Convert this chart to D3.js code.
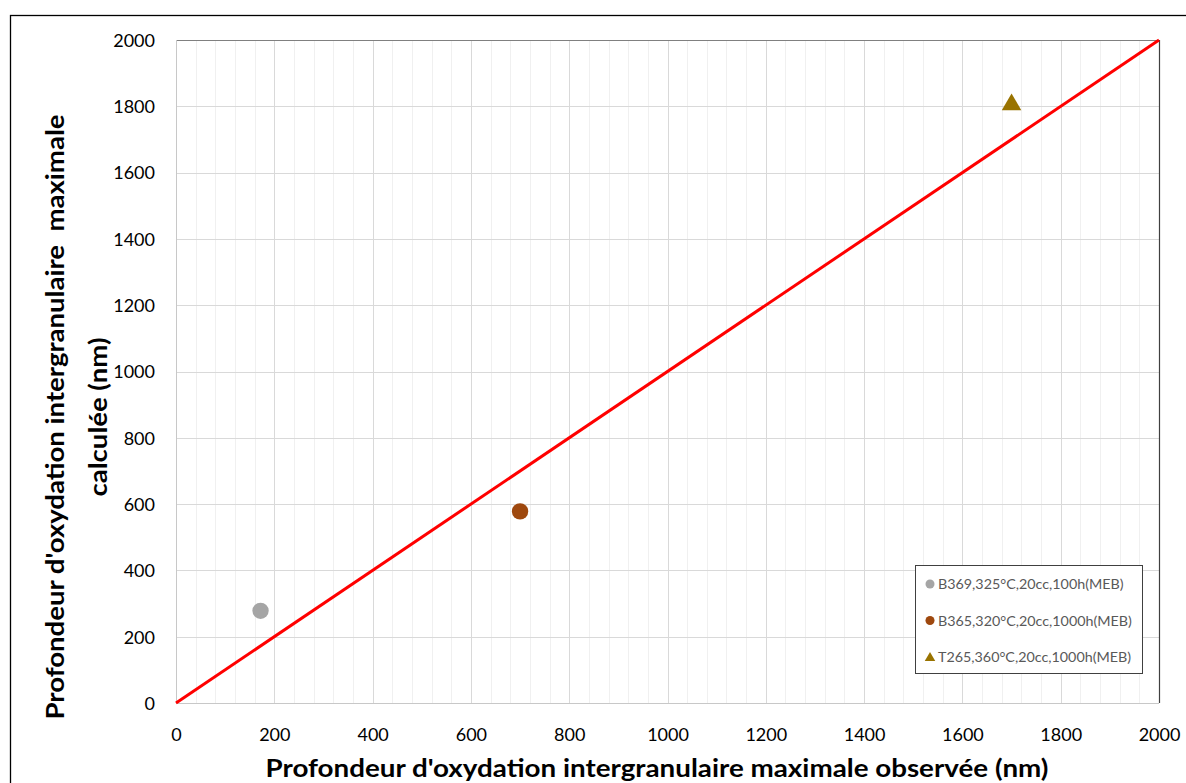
<!DOCTYPE html>
<html><head><meta charset="utf-8">
<script src="https://cdn.jsdelivr.net/npm/d3@7"></script>
<style>body{margin:0;background:#fff}svg{display:block;font-family:Lato,"Open Sans",sans-serif}</style>
</head><body><svg id="c" width="1186" height="783"></svg>
<script>
const seriesNames = ["B369,325°C,20cc,100h(MEB)", "B365,320°C,20cc,1000h(MEB)", "T265,360°C,20cc,1000h(MEB)"];
const observed = [172, 700, 1700];
const calculated = [278, 578, 1808];
const seriesColors = ["#A5A5A5", "#9E480E", "#997300"];
const seriesShapes = ["circle", "circle", "triangle"];
const refLineX = [0, 2000];
const refLineY = [0, 2000];
const xTicks = [0,200,400,600,800,1000,1200,1400,1600,1800,2000];
const yTicks = [0,200,400,600,800,1000,1200,1400,1600,1800,2000];
const xMinorTicks = d3.range(0, 2001, 40);
const xTitle = "Profondeur d'oxydation intergranulaire maximale observée (nm)";
const yTitle1 = "Profondeur d'oxydation intergranulaire\u00A0 maximale";
const yTitle2 = "calculée (nm)";

const svg = d3.select("#c");
const L=176, R=1159, T=40, B=703;
const x = d3.scaleLinear().domain([0,2000]).range([L,R]);
const y = d3.scaleLinear().domain([0,2000]).range([B,T]);

svg.append("rect").attr("x",10.5).attr("y",15.5).attr("width",1200).attr("height",800)
  .attr("fill","none").attr("stroke","#000").attr("stroke-width",1.3);

const g = svg.append("g");
g.selectAll(".mn").data(xMinorTicks).join("line")
  .attr("x1",d=>Math.round(x(d))+0.5).attr("x2",d=>Math.round(x(d))+0.5)
  .attr("y1",T).attr("y2",B).attr("stroke","#f0f0f0").attr("stroke-width",1);
g.selectAll(".mx").data(xTicks).join("line")
  .attr("x1",d=>Math.round(x(d))+0.5).attr("x2",d=>Math.round(x(d))+0.5)
  .attr("y1",T).attr("y2",B).attr("stroke","#d9d9d9").attr("stroke-width",1);
g.selectAll(".my").data(yTicks).join("line")
  .attr("x1",L).attr("x2",R)
  .attr("y1",d=>Math.round(y(d))+0.5).attr("y2",d=>Math.round(y(d))+0.5)
  .attr("stroke","#d9d9d9").attr("stroke-width",1);

g.append("line").attr("x1",L).attr("x2",R).attr("y1",T+0.5).attr("y2",T+0.5).attr("stroke","#808080").attr("stroke-width",1.2);
g.append("line").attr("x1",R+0.5).attr("x2",R+0.5).attr("y1",T).attr("y2",B).attr("stroke","#404040").attr("stroke-width",1.2);
g.append("line").attr("x1",L+0.5).attr("x2",L+0.5).attr("y1",T).attr("y2",B).attr("stroke","#c8c8c8");
g.append("line").attr("x1",L).attr("x2",R).attr("y1",B+0.5).attr("y2",B+0.5).attr("stroke","#c8c8c8");

const xAxis = d3.axisBottom(x).tickValues(xTicks).tickSize(0).tickPadding(0).tickFormat(d3.format("d"));
const gx = svg.append("g").attr("transform",`translate(0,${B})`).call(xAxis);
gx.select(".domain").remove();
gx.selectAll("text").attr("dy",0).attr("y",38).attr("font-size",18).attr("fill","#000").attr("font-family","Lato,'Open Sans',sans-serif");
const yAxis = d3.axisLeft(y).tickValues(yTicks).tickSize(0).tickPadding(0).tickFormat(d3.format("d"));
const gy = svg.append("g").attr("transform",`translate(${L},0)`).call(yAxis);
gy.select(".domain").remove();
gy.selectAll("text").attr("x",-21).attr("dy","0.35em").attr("font-size",18).attr("fill","#000").attr("font-family","Lato,'Open Sans',sans-serif");

const lineData = refLineX.map((v,i)=>[v, refLineY[i]]);
svg.append("path").datum(lineData)
  .attr("d", d3.line().x(d=>x(d[0])).y(d=>y(d[1])))
  .attr("stroke","#FF0000").attr("stroke-width",3).attr("fill","none");

const sym = s => s==="triangle" ? d3.symbol(d3.symbolTriangle, 165)() : d3.symbol(d3.symbolCircle, 210)();
observed.forEach((v,i)=>{
  svg.append("path").attr("d", sym(seriesShapes[i]))
    .attr("transform",`translate(${x(v)},${y(calculated[i]) + (seriesShapes[i]==="triangle"? 1:0)})`)
    .attr("fill",seriesColors[i]);
});

const lg = svg.append("g");
lg.append("rect").attr("x",915.5).attr("y",565.5).attr("width",227).attr("height",108)
  .attr("fill","#fff").attr("stroke","#404040").attr("stroke-width",1);
const symSmall = s => s==="triangle" ? d3.symbol(d3.symbolTriangle, 48)() : d3.symbol(d3.symbolCircle, 64)();
seriesNames.forEach((n,i)=>{
  const yy = 584 + i*36.5;
  lg.append("path").attr("d", symSmall(seriesShapes[i])).attr("transform",`translate(930,${yy+ (seriesShapes[i]==="triangle"?1:0)})`).attr("fill",seriesColors[i]);
  lg.append("text").attr("x",938).attr("y",yy).attr("dy","0.35em").attr("font-size",14.3).attr("fill","#595959").text(n);
});

svg.append("text").attr("x",657).attr("y",777).attr("text-anchor","middle")
  .attr("font-size",25).attr("font-weight","bold").attr("fill","#000")
  .attr("textLength",783).attr("lengthAdjust","spacingAndGlyphs").text(xTitle);
const yt = svg.append("text").attr("transform","translate(0,417) rotate(-90)").attr("text-anchor","middle")
  .attr("font-size",25).attr("font-weight","bold").attr("fill","#000");
const t1 = yt.append("tspan").attr("x",0).attr("y",64).text(yTitle1);
const t2 = yt.append("tspan").attr("x",0).attr("y",107).text(yTitle2);
const n1 = t1.node().getComputedTextLength();
const n2 = t2.node().getComputedTextLength();
const k = 605 / n1;
t1.attr("textLength",605).attr("lengthAdjust","spacingAndGlyphs");
t2.attr("textLength",n2*k).attr("lengthAdjust","spacingAndGlyphs");
</script></body></html>
